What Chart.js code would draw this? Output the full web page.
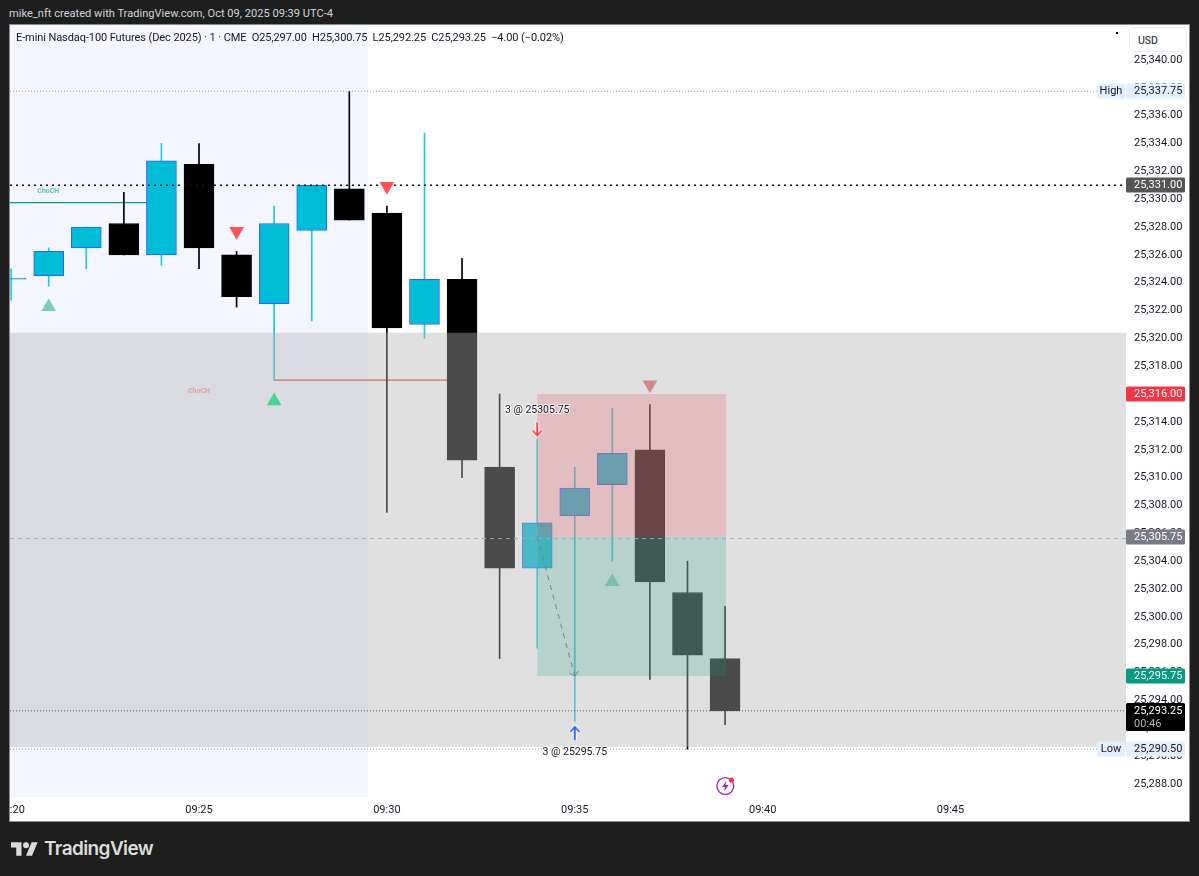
<!DOCTYPE html>
<html>
<head>
<meta charset="utf-8">
<title>E-mini Nasdaq-100 Futures</title>
<script src="https://cdn.jsdelivr.net/npm/chart.js@4"></script>
<style>
  html, body { margin: 0; padding: 0; width: 1199px; height: 876px; background: #1e1e1e; overflow: hidden; }
  body, div { font-family: Roboto, sans-serif; }
  .abs { position: absolute; white-space: nowrap; }
  #panel { left: 9px; top: 24px; width: 1179px; height: 796px; background: #fff; border: 1px solid #8a8a8a; }
  #wrap { left: 10px; top: 25px; width: 1179px; height: 796px; }
  #snapshot { left: 9px; top: 6px; color: #d1d4dc; font-size: 11.1px; line-height: 16px; }
  #legend { left: 16px; top: 30px; color: #131722; font-size: 11px; letter-spacing: -0.09px; line-height: 16px; }
  #usd { left: 1129px; top: 27px; width: 56px; height: 23px; border: 1px solid #e8eaf0; border-radius: 6px; background: #fff;
         color: #131722; font-size: 10.5px; line-height: 25px; text-indent: 8px; }
  #dot { left: 1116px; top: 32px; width: 2px; height: 2px; background: #000; }
  #logoText { left: 44px; top: 836px; color: #dcdcdc; font-family: Inter, sans-serif; font-weight: 600; font-size: 19px; line-height: 26px; letter-spacing: -0.6px; }
</style>
</head>
<body>
<div class="abs" id="panel"></div>
<div class="abs" id="wrap"><canvas id="chart" width="1179" height="796"></canvas></div>
<div class="abs" id="snapshot">mike_nft created with TradingView.com, Oct 09, 2025 09:39 UTC-4</div>
<div class="abs" id="legend">E-mini Nasdaq-100 Futures (Dec 2025) · 1 · CME &nbsp;O25,297.00 &nbsp;H25,300.75 &nbsp;L25,292.25 &nbsp;C25,293.25 &nbsp;−4.00 (−0.02%)</div>
<div class="abs" id="usd">USD</div>
<div class="abs" id="dot"></div>
<svg class="abs" style="left:716px;top:776px" width="20" height="20" viewBox="0 0 20 20">
  <circle cx="9.3" cy="10" r="8.4" fill="none" stroke="#9c27b0" stroke-width="1.4"/>
  <path d="M10.6 4.8 6 11h3l-1 4.4L12.6 9h-3z" fill="#9c27b0"/>
  <circle cx="15.4" cy="4" r="2.6" fill="#f23645"/>
</svg>
<svg class="abs" style="left:11px;top:839px" width="27" height="17" viewBox="0 0 36 22">
  <path d="M14 22H7V11H0V4h14v18zM28 22h-8l7.5-18h8L28 22z" fill="#dcdcdc"/>
  <circle cx="20" cy="8" r="4" fill="#dcdcdc"/>
</svg>
<div class="abs" id="logoText">TradingView</div>

<script>
/* candles: minutes after 09:20 */
const minutes = [0, 1, 2, 3, 4, 5, 6, 7, 8, 9, 10, 11, 12, 13, 14, 15, 16, 17, 18, 19];
const opens  = [25324.25, 25324.5, 25326.5, 25328.25, 25326, 25332.5, 25326, 25322.5, 25327.75, 25330.75,
                25329, 25321, 25324.25, 25310.75, 25303.5, 25307.25, 25309.5, 25312, 25301.75, 25297];
const highs  = [25325, 25326.5, 25328, 25330.5, 25334, 25334, 25326.25, 25329.5, 25331, 25337.75,
                25329.5, 25334.75, 25325.75, 25316, 25312.75, 25310.75, 25315, 25315.25, 25304, 25300.75];
const lows   = [25322.75, 25323.75, 25325, 25326, 25325.25, 25325, 25322.25, 25317, 25321.25, 25328.5,
                25307.5, 25320, 25310, 25297, 25297.75, 25292.5, 25304, 25295.5, 25290.5, 25292.25];
const closes = [25324.25, 25326.25, 25328, 25326, 25332.75, 25326.5, 25323, 25328.25, 25331, 25328.5,
                25320.75, 25324.25, 25311.25, 25303.5, 25306.75, 25309.25, 25311.75, 25302.5, 25297.25, 25293.25];

/* axes */
const timeTicks = [0, 5, 10, 15, 20, 25];
const timeLabels = ['09:20', '09:25', '09:30', '09:35', '09:40', '09:45'];
const priceTicks = [25288, 25290, 25292, 25294, 25296, 25298, 25300, 25302, 25304, 25306, 25308, 25310, 25312, 25314,
                    25316, 25318, 25320, 25322, 25324, 25326, 25328, 25330, 25332, 25334, 25336, 25338, 25340];
const xMin = -0.03, xMax = 29.67;
const yMin = 25287.06, yMax = 25342.51;

/* zones and price levels */
const sessionEnd = 9.5;
const rangeTop = 25320.4, rangeBottom = 25290.65;
const entryPrice = 25305.75, stopPrice = 25316, targetPrice = 25295.75;
const entryLine = 25305.62;
const tradeStart = 14, tradeEnd = 19.03;
const highPrice = 25337.75, lowPrice = 25290.5, lastPrice = 25293.25, levelPrice = 25331;

/* structure lines */
const chochUpX = [xMin, 4], chochUpY = [25329.75, 25329.75];
const chochDownX = [7, 12], chochDownY = [25317, 25317];

/* trade path */
const pathX = [14, 15], pathY = [25305.75, 25295.75];
const pathHeadX = [14.86, 15, 15.1], pathHeadY = [25295.95, 25295.75, 25296.1];

/* signals */
const paleUpX = [1], paleUpY = [25322.27];
const brightUpX = [7], brightUpY = [25315.5];
const redDownX = [6, 10], redDownY = [25327.7, 25330.93];
const fadedDownX = [17], fadedDownY = [25316.67];
const fadedUpX = [16], fadedUpY = [25302.52];
const sellArrowX = [14], sellArrowY = [25313.46];
const buyArrowX = [15], buyArrowY = [25291.67];

/* notes */
const noteTexts = ['ChoCH', 'ChoCH', '3 @ 25305.75', '3 @ 25295.75'];
const noteX = [0.99, 5, 14, 15];
const noteY = [25330.55, 25316.2, 25314.84, 25290.3];

/* price axis tags */
const tagPrices = [highPrice, levelPrice, stopPrice, entryPrice, targetPrice, lowPrice, lastPrice];
const tagSides = ['High', '', '', '', '', 'Low', ''];
const countdown = '00:46';

const FONT = 'Roboto, sans-serif';
const noteStyles = [
  { color: '#62c6b2', font: `bold 7px ${FONT}`, halo: false },
  { color: '#e5a3a7', font: `bold 7px ${FONT}`, halo: false },
  { color: '#131722', font: `10.5px ${FONT}`, halo: true },
  { color: '#131722', font: `10.5px ${FONT}`, halo: true }
];
const tagStyles = [
  { bg: '#e3effd', fg: '#131722' },
  { bg: '#555555', fg: '#ffffff' },
  { bg: '#f23645', fg: '#ffffff' },
  { bg: '#787b86', fg: '#ffffff' },
  { bg: '#089981', fg: '#ffffff' },
  { bg: '#e3effd', fg: '#131722' },
  { bg: '#000000', fg: '#ffffff' }
];

const fmtPrice = v => v.toLocaleString('en-US', { minimumFractionDigits: 2, maximumFractionDigits: 2 });
const zip = (xs, ys) => xs.map((x, i) => ({ x, y: ys[i] }));

/* small arrow icon for the trade marks */
function arrowIcon(color, up) {
  const c = document.createElement('canvas');
  c.width = 14; c.height = 16;
  const g = c.getContext('2d');
  if (!up) { g.translate(0, 16); g.scale(1, -1); }
  const trace = () => {
    g.beginPath();
    g.moveTo(7, 14.5); g.lineTo(7, 2.5);
    g.moveTo(2.8, 6.5); g.lineTo(7, 2); g.lineTo(11.2, 6.5);
    g.stroke();
  };
  g.lineCap = 'round';
  g.strokeStyle = 'rgba(255,255,255,0.9)'; g.lineWidth = 3.6; trace();
  g.strokeStyle = color; g.lineWidth = 1.8; trace();
  return c;
}

/* dataset helpers */
const isUp = i => closes[i] >= opens[i];
const bodyData = up => minutes.filter((m, i) => isUp(i) === up).map(m => ({ x: m, y: [opens[m], closes[m]] }));
const wickData = up => minutes.filter((m, i) => isUp(i) === up).map(m => ({ x: m, y: [lows[m], highs[m]] }));

function zone(x0, x1, top, bottom, color, order) {
  return {
    type: 'line', order, data: zip([x0, x1], [top, top]),
    fill: { value: bottom }, backgroundColor: color, borderWidth: 0, pointRadius: 0, tension: 0
  };
}
function level(price, color, dash, width, order) {
  return {
    type: 'line', order, data: zip([xMin, xMax], [price, price]),
    borderColor: color, borderDash: dash, borderWidth: width, pointRadius: 0, fill: false
  };
}
function path(xs, ys, color, dash, width, order) {
  return {
    type: 'line', order, data: zip(xs, ys),
    borderColor: color, borderDash: dash, borderWidth: width, pointRadius: 0, fill: false, tension: 0
  };
}
function marker(xs, ys, style, rotation, radius, color, order) {
  return {
    type: 'scatter', order, data: zip(xs, ys), showLine: false,
    pointStyle: style, rotation, pointRadius: radius, backgroundColor: color, borderColor: color, borderWidth: 0
  };
}
function bar(data, thickness, fill, border, borderWidth, order) {
  return {
    type: 'bar', order, data, grouped: false, barThickness: thickness, minBarLength: 1,
    backgroundColor: fill, borderColor: border, borderWidth, borderSkipped: false
  };
}

const datasets = [
  zone(xMin, sessionEnd, yMax, yMin, '#f3f6ff', 100),
  path(chochUpX, chochUpY, '#089981', [], 1.3, 90),
  path(chochDownX, chochDownY, '#f23645', [], 1.3, 90),
  bar(wickData(true), 1, '#26c6da', '#26c6da', 0, 80),
  bar(wickData(false), 1, '#000000', '#000000', 0, 80),
  bar(bodyData(true), 30, '#00bcd4', '#2962ff', 1, 70),
  bar(bodyData(false), 30, '#000000', '#000000', 1, 70),
  zone(xMin, xMax, rangeTop, rangeBottom, 'rgba(180,180,180,0.412)', 60),
  zone(tradeStart, tradeEnd, stopPrice, entryPrice, 'rgba(242,54,69,0.2)', 50),
  zone(tradeStart, tradeEnd, entryPrice, targetPrice, 'rgba(8,153,129,0.2)', 50),
  level(highPrice, '#9598a1', [1, 2], 1, 40),
  level(lowPrice, '#9598a1', [1, 2], 1, 40),
  level(levelPrice, '#111111', [2, 4], 1.5, 40),
  level(entryLine, '#a8a8a8', [4, 4], 1, 40),
  level(lastPrice, '#555555', [1, 2], 1, 40),
  path(pathX, pathY, '#787b86', [5, 5], 1, 30),
  path(pathHeadX, pathHeadY, '#787b86', [], 1, 30),
  marker(paleUpX, paleUpY, 'triangle', 0, 8.5, '#7ccdb1', 20),
  marker(brightUpX, brightUpY, 'triangle', 0, 8.5, '#48d491', 20),
  marker(redDownX, redDownY, 'triangle', 180, 8.5, '#ff5252', 20),
  marker(fadedDownX, fadedDownY, 'triangle', 180, 8.5, '#cd8a88', 20),
  marker(fadedUpX, fadedUpY, 'triangle', 0, 8.5, '#79bfaa', 20),
  marker(sellArrowX, sellArrowY, arrowIcon('#f23645', false), 0, 7, '#f23645', 10),
  marker(buyArrowX, buyArrowY, arrowIcon('#2962ff', true), 0, 7, '#2962ff', 10)
];

/* notes on the pane and tags on the price axis */
const overlay = {
  id: 'overlay',
  afterDatasetsDraw(chart) {
    const { ctx, scales: { x, y } } = chart;
    ctx.save();
    ctx.textAlign = 'center';
    ctx.textBaseline = 'middle';
    noteTexts.forEach((t, i) => {
      const st = noteStyles[i];
      const px = x.getPixelForValue(noteX[i]), py = y.getPixelForValue(noteY[i]);
      ctx.font = st.font;
      if (st.halo) {
        ctx.strokeStyle = 'rgba(255,255,255,0.75)';
        ctx.lineWidth = 2;
        ctx.strokeText(t, px, py);
      }
      ctx.fillStyle = st.color;
      ctx.fillText(t, px, py);
    });
    ctx.restore();
  },
  afterDraw(chart) {
    const { ctx, scales: { y } } = chart;
    const left = y.left;
    ctx.save();
    ctx.textBaseline = 'middle';
    ctx.font = `11px ${FONT}`;
    tagPrices.forEach((p, i) => {
      const st = tagStyles[i];
      const py = Math.round(y.getPixelForValue(p));
      const tall = p === lastPrice;
      const top = tall ? py - 8 : py - 7.5;
      const h = tall ? 28 : 15;
      ctx.fillStyle = st.bg;
      ctx.beginPath();
      ctx.roundRect(left, top, 59, h, 1.5);
      ctx.fill();
      if (tagSides[i]) {
        ctx.beginPath();
        ctx.roundRect(left - 29, top, 28, h, 1.5);
        ctx.fill();
        ctx.fillStyle = st.fg;
        ctx.textAlign = 'center';
        ctx.fillText(tagSides[i], left - 15, py + 0.5);
      }
      ctx.fillStyle = st.fg;
      ctx.textAlign = 'left';
      ctx.fillText(fmtPrice(p), left + 8, py + 0.5);
      if (tall) {
        ctx.fillStyle = '#b2b5be';
        ctx.fillText(countdown, left + 8, py + 13);
      }
    });
    ctx.restore();
  }
};

new Chart(document.getElementById('chart'), {
  type: 'bar',
  data: { datasets },
  plugins: [overlay],
  options: {
    responsive: false,
    animation: false,
    events: [],
    layout: { padding: 0, autoPadding: false },
    plugins: { legend: { display: false }, tooltip: { enabled: false } },
    scales: {
      x: {
        type: 'linear', offset: false, min: xMin, max: xMax,
        grid: { display: false, drawTicks: false }, border: { display: false },
        afterBuildTicks: s => { s.ticks = timeTicks.map(value => ({ value })); },
        afterFit: s => { s.height = 24; s.paddingLeft = 0; s.paddingRight = 0; },
        ticks: {
          callback: (v, i) => timeLabels[i],
          autoSkip: false, maxRotation: 0, minRotation: 0, padding: 7,
          color: '#131722', font: { family: FONT, size: 11 }
        }
      },
      y: {
        type: 'linear', position: 'right', min: yMin, max: yMax, beginAtZero: false,
        grid: { display: false, drawTicks: false }, border: { display: false },
        afterBuildTicks: s => { s.ticks = priceTicks.map(value => ({ value })); },
        afterFit: s => { s.width = 63; s.paddingTop = 0; s.paddingBottom = 0; },
        ticks: {
          callback: v => fmtPrice(v),
          autoSkip: false, padding: 8,
          color: '#131722', font: { family: FONT, size: 11 }
        }
      }
    }
  }
});
</script>
</body>
</html>
